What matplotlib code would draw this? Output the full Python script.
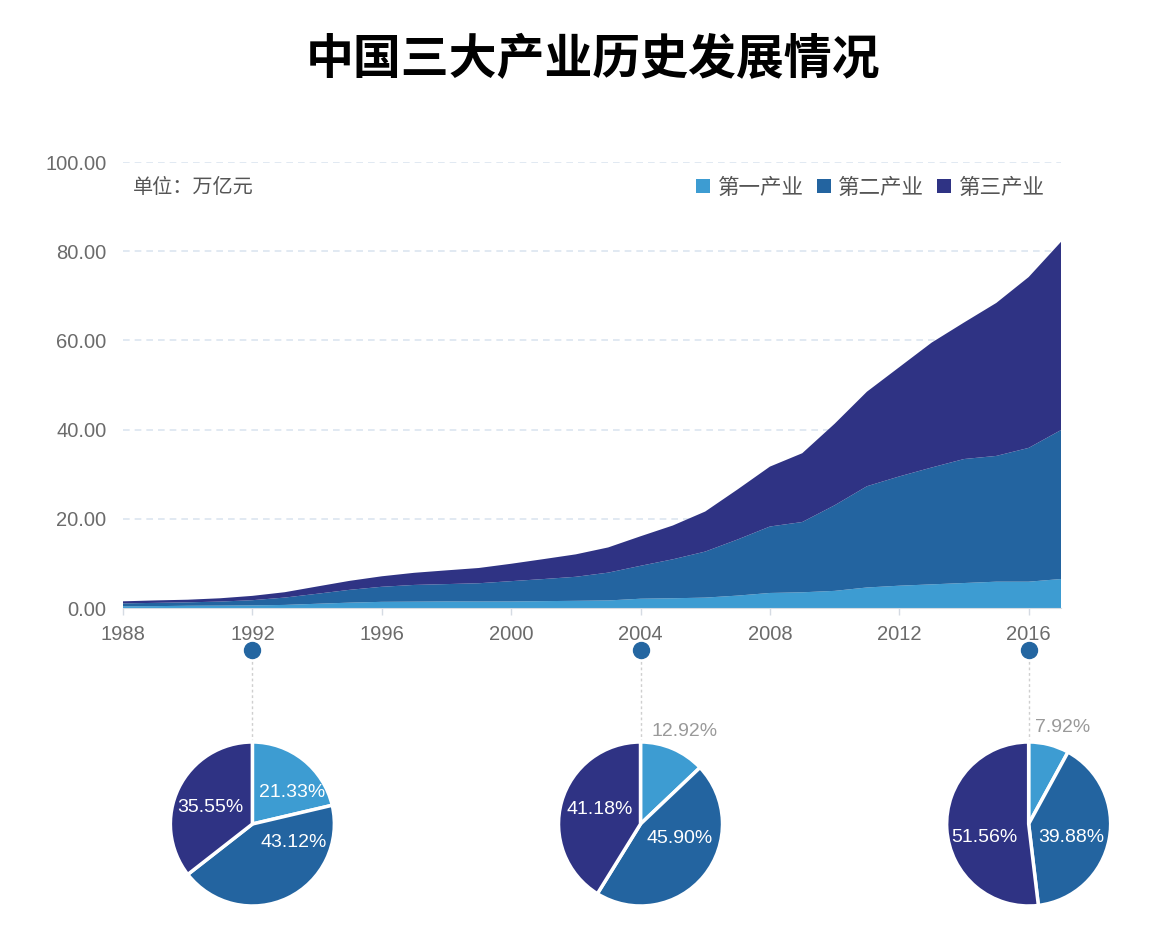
import matplotlib
matplotlib.use("Agg")
import matplotlib.pyplot as plt
from matplotlib.patches import Patch
import numpy as np

# ---------------- data ----------------
years = list(range(1988, 2018))
primary = [0.38, 0.42, 0.50, 0.53, 0.58, 0.69, 0.95, 1.20, 1.38, 1.42,
           1.46, 1.45, 1.46, 1.54, 1.61, 1.69, 2.08, 2.18, 2.33, 2.78,
           3.37, 3.52, 3.84, 4.60, 5.00, 5.30, 5.60, 5.90, 5.90, 6.50]
secondary = [0.66, 0.73, 0.77, 0.91, 1.17, 1.65, 2.24, 2.87, 3.38, 3.75,
             3.90, 4.10, 4.56, 4.95, 5.39, 6.24, 7.38, 8.74, 10.32, 12.58,
             14.90, 15.76, 19.19, 22.70, 24.50, 26.20, 27.80, 28.20, 30.00, 33.40]
tertiary = [0.46, 0.55, 0.59, 0.74, 0.97, 1.20, 1.63, 2.01, 2.35, 2.72,
            3.08, 3.42, 3.90, 4.47, 5.03, 5.65, 6.62, 7.58, 8.98, 11.22,
            13.43, 15.42, 18.27, 21.20, 24.50, 28.00, 30.60, 34.30, 38.30, 42.20]
series_names = ["第一产业", "第二产业", "第三产业"]
xtick_years = [1988, 1992, 1996, 2000, 2004, 2008, 2012, 2016]
yticks = [0, 20, 40, 60, 80, 100]

pie_years = [1992, 2004, 2016]
pie_shares = [[21.33, 43.12, 35.55],
              [12.92, 45.90, 41.18],
              [7.92, 39.88, 51.56]]

title = "中国三大产业历史发展情况"
unit_text = "单位：万亿元"

# ---------------- style ----------------
colors = ["#3d9cd2", "#2364a0", "#2f3384"]
W, H = 1174, 930
latin = ["Liberation Sans", "Noto Sans CJK SC"]
cjk = ["Noto Sans CJK SC", "DejaVu Sans"]

fig = plt.figure(figsize=(W / 100, H / 100), dpi=100)
fig.patch.set_facecolor("white")

# main area axes
left, right = 123 / W, 1061 / W
bottom, top = 1 - 608 / H, 1 - 162 / H
ax = fig.add_axes([left, bottom, right - left, top - bottom])
ax.stackplot(years, primary, secondary, tertiary, colors=colors,
             linewidth=0, zorder=2)
ax.set_xlim(1988, 2017)
ax.set_ylim(0, 100)
ax.set_yticks(yticks)
ax.set_yticklabels([f"{v:.2f}" for v in yticks], family=latin,
                   fontsize=14.5, color="#6b6b6b")
ax.set_xticks(xtick_years)
ax.set_xticklabels([str(y) for y in xtick_years], family=latin,
                   fontsize=14.5, color="#6b6b6b")
ax.tick_params(axis="y", length=0, pad=12)
ax.tick_params(axis="x", length=5, width=1, color="#d5dbe3", pad=7)
for s in ["top", "right", "left"]:
    ax.spines[s].set_visible(False)
ax.spines["bottom"].set_color("#d5dbe3")
for v in yticks[1:]:
    ax.axhline(v, color="#dce5f0", linestyle=(0, (4, 3)), linewidth=1.2,
               zorder=1)

ax.text(0.011, 0.942, unit_text, transform=ax.transAxes, family=cjk,
        fontsize=14.5, color="#555555", va="center", ha="left")

handles = [Patch(facecolor=c, edgecolor="none") for c in colors]
leg = ax.legend(handles, series_names, loc="center right",
                bbox_to_anchor=(0.992, 0.942), ncol=3, frameon=False,
                prop={"family": cjk, "size": 15.5}, handlelength=0.65,
                handleheight=0.65, handletextpad=0.35, columnspacing=0.6,
                borderaxespad=0)
for t in leg.get_texts():
    t.set_color("#555555")

fig.text(0.505, 1 - 60 / H, title, family=cjk, fontweight="bold",
         fontsize=34.5, ha="center", va="center", color="black")

# markers and connectors under the axis
dot_y = -9.4
pie_top_y = -30.0
ax.plot(pie_years, [dot_y] * len(pie_years), "o", color="#2466a1",
        markersize=11.5, clip_on=False, zorder=5)
ax.vlines(pie_years, pie_top_y, dot_y, colors="#cfcfcf",
          linestyles=(0, (2, 2)), linewidth=1, clip_on=False, zorder=1)

# pies
R = 82
pie_cy = H - 824
label_offsets = [
    [(0.49, 0.38), (0.50, -0.22), (-0.51, 0.20)],
    [(0.54, 1.13), (0.48, -0.18), (-0.50, 0.18)],
    [(0.41, 1.18), (0.52, -0.16), (-0.54, -0.16)],
]
scale = 1.5
for yr, shares, offs in zip(pie_years, pie_shares, label_offsets):
    cx = ax.transData.transform((yr, 0))[0]
    side = 2 * R * scale
    pax = fig.add_axes([(cx - side / 2) / W, (pie_cy - side / 2) / H,
                        side / W, side / H])
    pax.pie(shares, colors=colors, startangle=90, counterclock=False,
            radius=1, wedgeprops=dict(edgecolor="white", linewidth=2.5))
    pax.set_xlim(-scale, scale)
    pax.set_ylim(-scale, scale)
    pax.set_aspect("equal")
    pax.axis("off")
    for v, (dx, dy) in zip(shares, offs):
        outside = (dx * dx + dy * dy) > 1
        pax.text(dx, dy, f"{v:.2f}%", ha="center", va="center",
                 family=latin, fontsize=14,
                 color="#9a9a9a" if outside else "white")

fig.savefig("out.png", dpi=100, facecolor="white")
